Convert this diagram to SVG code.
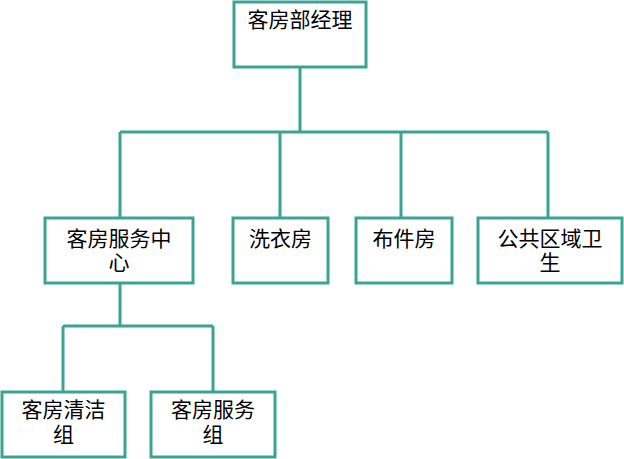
<svg xmlns="http://www.w3.org/2000/svg" width="624" height="459" viewBox="0 0 624 459">
<style>
.box{fill:#fff;stroke:#3ba396;stroke-width:3}
.ln{fill:none;stroke:#3ba396;stroke-width:3}
text{font-family:"Liberation Sans","Noto Sans CJK SC",sans-serif;font-size:21px;fill:#000;text-anchor:middle}
</style>
<rect width="624" height="459" fill="#fff"/>
<g id="connectors">
<path class="ln" d="M300 67V132M120 132H548M120 132V218M280 132V218M401 132V218M548 132V218"/>
<path class="ln" d="M120 283V326M63 326H213M63 326V392M213 326V392"/>
</g>
<g id="n1"><rect class="box" x="234" y="2" width="132" height="65"/><text x="300" y="27">客房部经理</text></g>
<g id="n2"><rect class="box" x="45" y="218" width="148" height="65"/><text x="119" y="246">客房服务中<tspan x="119" dy="24">心</tspan></text></g>
<g id="n3"><rect class="box" x="233" y="218" width="95" height="65"/><text x="280.5" y="246">洗衣房</text></g>
<g id="n4"><rect class="box" x="356" y="218" width="96" height="65"/><text x="404" y="246">布件房</text></g>
<g id="n5"><rect class="box" x="478" y="218" width="144" height="65"/><text x="550" y="246">公共区域卫<tspan x="550" dy="24">生</tspan></text></g>
<g id="n6"><rect class="box" x="2" y="392" width="123" height="65"/><text x="63.5" y="417">客房清洁<tspan x="63.5" dy="25">组</tspan></text></g>
<g id="n7"><rect class="box" x="151" y="392" width="124" height="65"/><text x="213" y="417">客房服务<tspan x="213" dy="25">组</tspan></text></g>
</svg>
